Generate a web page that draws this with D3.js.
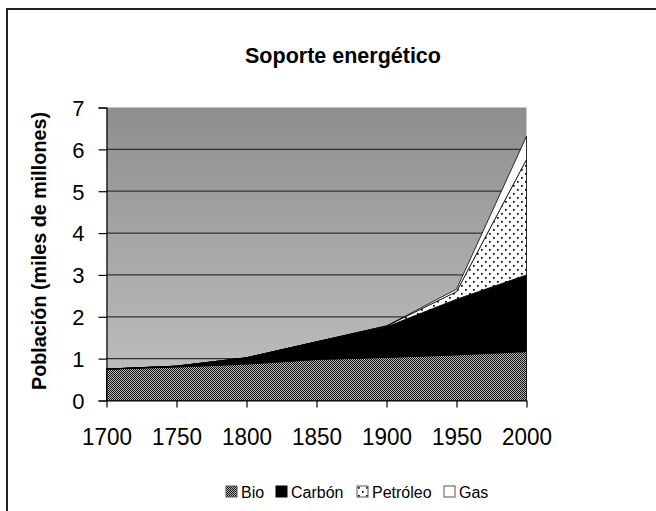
<!DOCTYPE html>
<html><head><meta charset="utf-8">
<script src="https://cdn.jsdelivr.net/npm/d3@7"></script>
<style>body{margin:0;background:#fff}svg{display:block;font-family:"Liberation Sans",Arial,sans-serif}</style>
</head><body><svg id="c" width="656" height="511"></svg>
<script>
const years = [1700, 1750, 1800, 1850, 1900, 1950, 2000];
const bio = [0.75, 0.80, 0.87, 0.98, 1.03, 1.09, 1.17];
const carbon = [0.0, 0.02, 0.15, 0.42, 0.73, 1.33, 1.83];
const petroleo = [0.0, 0.0, 0.0, 0.0, 0.02, 0.18, 2.76];
const gas = [0.0, 0.0, 0.0, 0.0, 0.0, 0.06, 0.55];
const seriesNames = ["Bio", "Carbón", "Petróleo", "Gas"];
const yTicks = [0, 1, 2, 3, 4, 5, 6, 7];
const title = "Soporte energético";
const yTitle = "Población (miles de millones)";

const FF = "Liberation Sans, Arial, sans-serif";
const svg = d3.select("#c");
const defs = svg.append("defs");
const grad = defs.append("linearGradient").attr("id", "bg").attr("x1", 0).attr("y1", 0).attr("x2", 0).attr("y2", 1);
grad.append("stop").attr("offset", "0%").attr("stop-color", "#8e8e8e");
grad.append("stop").attr("offset", "100%").attr("stop-color", "#c2c2c2");
const pb = defs.append("pattern").attr("id", "pBio").attr("width", 2).attr("height", 2).attr("patternUnits", "userSpaceOnUse");
pb.append("rect").attr("width", 2).attr("height", 2).attr("fill", "#b8b8b8");
pb.append("rect").attr("width", 1).attr("height", 1).attr("fill", "#111");
pb.append("rect").attr("x", 1).attr("y", 1).attr("width", 1).attr("height", 1).attr("fill", "#111");
const pp = defs.append("pattern").attr("id", "pPet").attr("width", 8).attr("height", 8).attr("patternUnits", "userSpaceOnUse");
pp.append("rect").attr("width", 8).attr("height", 8).attr("fill", "#fff");
pp.append("rect").attr("x", 1).attr("y", 1).attr("width", 1.7).attr("height", 1.7).attr("fill", "#000");
pp.append("rect").attr("x", 5).attr("y", 5).attr("width", 1.7).attr("height", 1.7).attr("fill", "#000");

const fills = ["url(#pBio)", "#000", "url(#pPet)", "#fff"];

// frame
svg.append("rect").attr("x", 7).attr("y", 9).attr("width", 700).attr("height", 600)
  .attr("fill", "none").attr("stroke", "#222").attr("stroke-width", 2);

const x = d3.scaleLinear().domain([1700, 2000]).range([106.5, 526.5]);
const y = d3.scaleLinear().domain([0, 7]).range([400.5, 107.5]);

svg.append("rect").attr("x", x(1700)).attr("y", y(7)).attr("width", x(2000) - x(1700)).attr("height", y(0) - y(7))
  .attr("fill", "url(#bg)");

// gridlines
svg.append("g").selectAll("line").data(yTicks.slice(1, 7)).join("line")
  .attr("x1", x(1700)).attr("x2", x(2000)).attr("y1", d => y(d)).attr("y2", d => y(d))
  .attr("stroke", "#333").attr("stroke-width", 1.2);

const table = years.map((yr, i) => ({year: yr, Bio: bio[i], "Carbón": carbon[i], "Petróleo": petroleo[i], Gas: gas[i]}));
const stack = d3.stack().keys(seriesNames)(table);
const area = d3.area().x(d => x(d.data.year)).y0(d => y(d[0])).y1(d => y(d[1]));
svg.append("g").selectAll("path").data(stack).join("path")
  .attr("d", area).attr("fill", (d, i) => fills[i]).attr("stroke", "#000").attr("stroke-width", 0.8)
  .attr("stroke-linejoin", "round");

// axes
const yAxis = d3.axisLeft(y).tickValues(yTicks).tickSize(8).tickPadding(14).tickFormat(d3.format("d"));
const gy = svg.append("g").attr("transform", `translate(${x(1700)},0)`).call(yAxis);
gy.select(".domain").attr("stroke", "#000").attr("stroke-width", 1.2);
gy.selectAll(".tick line").attr("stroke", "#000").attr("stroke-width", 1.2);
gy.selectAll("text").attr("font-size", 22).attr("fill", "#000").attr("font-family", FF).attr("dy", "0.36em");

const xAxis = d3.axisBottom(x).tickValues(years).tickSize(7).tickPadding(14).tickFormat(d3.format("d")).tickSizeOuter(0);
const gx = svg.append("g").attr("transform", `translate(0,${y(0)})`).call(xAxis);
gx.select(".domain").attr("stroke", "#000").attr("stroke-width", 1.2);
gx.selectAll(".tick line").attr("stroke", "#000").attr("stroke-width", 1.2);
gx.selectAll("text").attr("font-size", 24).attr("fill", "#000").attr("font-family", FF)
  .attr("y", 44.5).attr("dy", 0)
  .attr("textLength", 50).attr("lengthAdjust", "spacingAndGlyphs");

svg.append("text").attr("x", 343).attr("y", 63).attr("text-anchor", "middle").attr("font-family", FF)
  .attr("font-size", 21.5).attr("font-weight", "bold").text(title);
svg.append("text").attr("transform", "translate(46,251) rotate(-90)").attr("text-anchor", "middle").attr("font-family", FF)
  .attr("font-size", 19.8).attr("font-weight", "bold").text(yTitle);

// legend
const legX = [226, 276, 357, 444];
const lg = svg.append("g").selectAll("g").data(seriesNames).join("g")
  .attr("transform", (d, i) => `translate(${legX[i]},486)`);
lg.append("rect").attr("width", 11).attr("height", 11).attr("fill", (d, i) => fills[i])
  .attr("stroke", (d, i) => i === 1 ? "#000" : "#555").attr("stroke-width", 1);
lg.append("text").attr("x", 15).attr("y", 11.5).attr("font-size", 16).attr("font-family", FF).attr("fill", "#000").text(d => d);
</script></body></html>
